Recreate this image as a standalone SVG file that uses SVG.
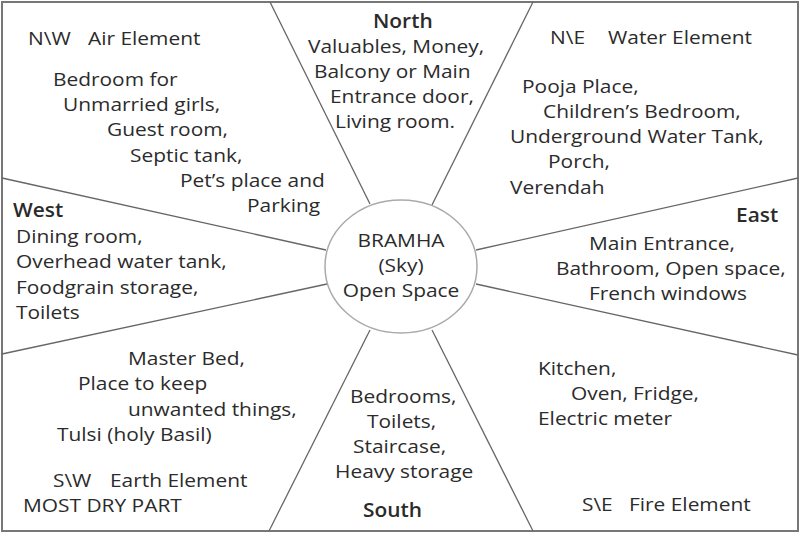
<svg xmlns="http://www.w3.org/2000/svg" width="800" height="533" viewBox="0 0 800 533">
<style>
text{font-family:"Open Sans","Liberation Sans",sans-serif;font-size:19px;fill:#2b2b2b}
.h{font-weight:600}
.ln{stroke:#666;stroke-width:1.3;fill:none}
</style>
<rect x="0" y="0" width="800" height="533" fill="#fff"/>
<rect x="2" y="2" width="796" height="529" fill="none" stroke="#777" stroke-width="2"/>
<g id="connectors">
<line class="ln" x1="270" y1="2" x2="370" y2="204"/>
<line class="ln" x1="533" y1="2" x2="432" y2="205"/>
<line class="ln" x1="798" y1="178" x2="476" y2="250"/>
<line class="ln" x1="476" y1="284" x2="798" y2="355"/>
<line class="ln" x1="432" y1="330" x2="533" y2="531"/>
<line class="ln" x1="370" y1="330" x2="269" y2="531"/>
<line class="ln" x1="327" y1="284" x2="2" y2="354"/>
<line class="ln" x1="2" y1="178" x2="326" y2="250"/>
</g>
<g id="center">
<ellipse cx="401" cy="266.5" rx="76" ry="66.5" fill="#fff" stroke="#aaa" stroke-width="1.5"/>
<g transform="scale(1.1 1)">
<text x="364.55" y="247" text-anchor="middle">BRAMHA</text>
<text x="364.55" y="272" text-anchor="middle">(Sky)</text>
<text x="364.55" y="297" text-anchor="middle">Open Space</text>
</g>
</g>
<g id="north" transform="scale(1.1 1)">
<text class="h" x="339.09" y="28">North</text>
<text x="280" y="53">Valuables, Money,</text>
<text x="285.45" y="78">Balcony or Main</text>
<text x="300" y="103">Entrance door,</text>
<text x="304.55" y="128">Living room.</text>
</g>
<g id="northwest" transform="scale(1.1 1)">
<text x="25.45" y="45">N\W<tspan x="80">Air Element</tspan></text>
<text x="48.18" y="86">Bedroom for</text>
<text x="57.27" y="111">Unmarried girls,</text>
<text x="97.27" y="136">Guest room,</text>
<text x="118.18" y="162">Septic tank,</text>
<text x="163.64" y="187">Pet’s place and</text>
<text x="224.55" y="212">Parking</text>
</g>
<g id="northeast" transform="scale(1.1 1)">
<text x="500" y="44">N\E<tspan x="552.73">Water Element</tspan></text>
<text x="474.55" y="93">Pooja Place,</text>
<text x="493.64" y="118">Children’s Bedroom,</text>
<text x="463.64" y="143">Underground Water Tank,</text>
<text x="498.18" y="168">Porch,</text>
<text x="463.64" y="194">Verendah</text>
</g>
<g id="west" transform="scale(1.1 1)">
<text class="h" x="11.82" y="217">West</text>
<text x="14.55" y="243">Dining room,</text>
<text x="14.55" y="268">Overhead water tank,</text>
<text x="14.55" y="294">Foodgrain storage,</text>
<text x="14.55" y="319">Toilets</text>
</g>
<g id="east" transform="scale(1.1 1)">
<text class="h" x="669.09" y="222">East</text>
<text x="535.45" y="250">Main Entrance,</text>
<text x="505.45" y="275">Bathroom, Open space,</text>
<text x="535.45" y="300">French windows</text>
</g>
<g id="southwest" transform="scale(1.1 1)">
<text x="116.36" y="365">Master Bed,</text>
<text x="70.91" y="390">Place to keep</text>
<text x="116.36" y="416">unwanted things,</text>
<text x="51.82" y="441">Tulsi (holy Basil)</text>
<text x="48.18" y="487">S\W<tspan x="100">Earth Element</tspan></text>
<text x="20.91" y="512">MOST DRY PART</text>
</g>
<g id="south" transform="scale(1.1 1)">
<text x="318.18" y="403">Bedrooms,</text>
<text x="333.64" y="428">Toilets,</text>
<text x="320.91" y="453">Staircase,</text>
<text x="304.55" y="478">Heavy storage</text>
<text class="h" x="330" y="517">South</text>
</g>
<g id="southeast" transform="scale(1.1 1)">
<text x="489.09" y="375">Kitchen,</text>
<text x="519.09" y="400">Oven, Fridge,</text>
<text x="489.09" y="425">Electric meter</text>
<text x="529.09" y="511">S\E<tspan x="571.82">Fire Element</tspan></text>
</g>
</svg>
